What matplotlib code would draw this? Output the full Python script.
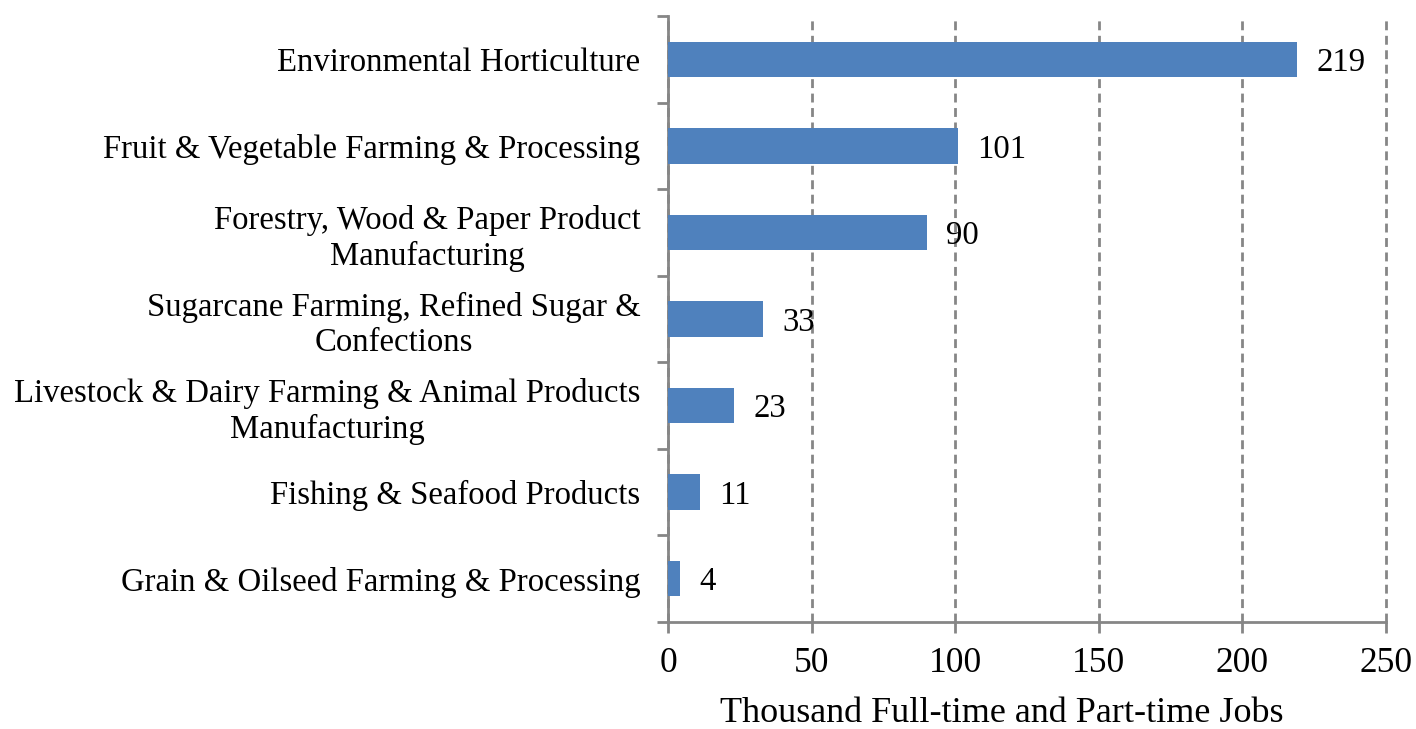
import numpy as np
import matplotlib.pyplot as plt

# Industry groups, top to bottom
sectors = ['Environmental Horticulture',
           'Fruit & Vegetable Farming & Processing',
           'Forestry, Wood & Paper Product\nManufacturing',
           'Sugarcane Farming, Refined Sugar &\nConfections',
           'Livestock & Dairy Farming & Animal Products\nManufacturing',
           'Fishing & Seafood Products',
           'Grain & Oilseed Farming & Processing']
# Thousand jobs
jobs = [219, 101, 90, 33, 23, 11, 4]
xticks = [0, 50, 100, 150, 200, 250]

plt.rcParams['font.family'] = ['Liberation Serif', 'DejaVu Serif']
grey = '#868686'
fs = 23.6

fig = plt.figure(figsize=(14.16, 7.29), dpi=100)
ax = fig.add_axes([0.4718, 0.1468, 0.5070, 0.8312])

y = np.arange(len(sectors))
bars = ax.barh(y, jobs, height=0.41, color='#4F81BD', zorder=3)

for b, v in zip(bars, jobs):
    ax.annotate(str(v), (b.get_width(), b.get_y() + b.get_height() / 2),
                xytext=(14, 0), textcoords='offset points',
                va='center_baseline', ha='left', fontsize=fs)

ax.set_xlim(0, 250)
ax.set_ylim(len(sectors) - 0.5, -0.5)
ax.set_xticks(xticks)
ax.set_yticks(y)
ax.set_yticklabels(sectors, multialignment='center', linespacing=1.2)
ax.set_yticks(np.arange(-0.5, len(sectors)), minor=True)

ax.tick_params(axis='y', which='major', length=0, pad=20, labelsize=fs)
ax.tick_params(axis='y', which='minor', length=8, width=2, color=grey)
ax.tick_params(axis='x', length=8, width=2, color=grey, pad=10, labelsize=25.5)

for s in ['top', 'right']:
    ax.spines[s].set_visible(False)
for s in ['left', 'bottom']:
    ax.spines[s].set_color(grey)
    ax.spines[s].set_linewidth(2)

ax.xaxis.grid(True, color=grey, linestyle=(0, (3.2, 2)), linewidth=2, zorder=0)
for gl in ax.get_xgridlines():
    gl.set_clip_on(False)
ax.set_axisbelow(True)
ax.set_xlabel('Thousand Full-time and Part-time Jobs', fontsize=26, labelpad=14)
ax.xaxis.set_label_coords(0.465, -0.124)

fig.savefig('out.png', dpi=100)
